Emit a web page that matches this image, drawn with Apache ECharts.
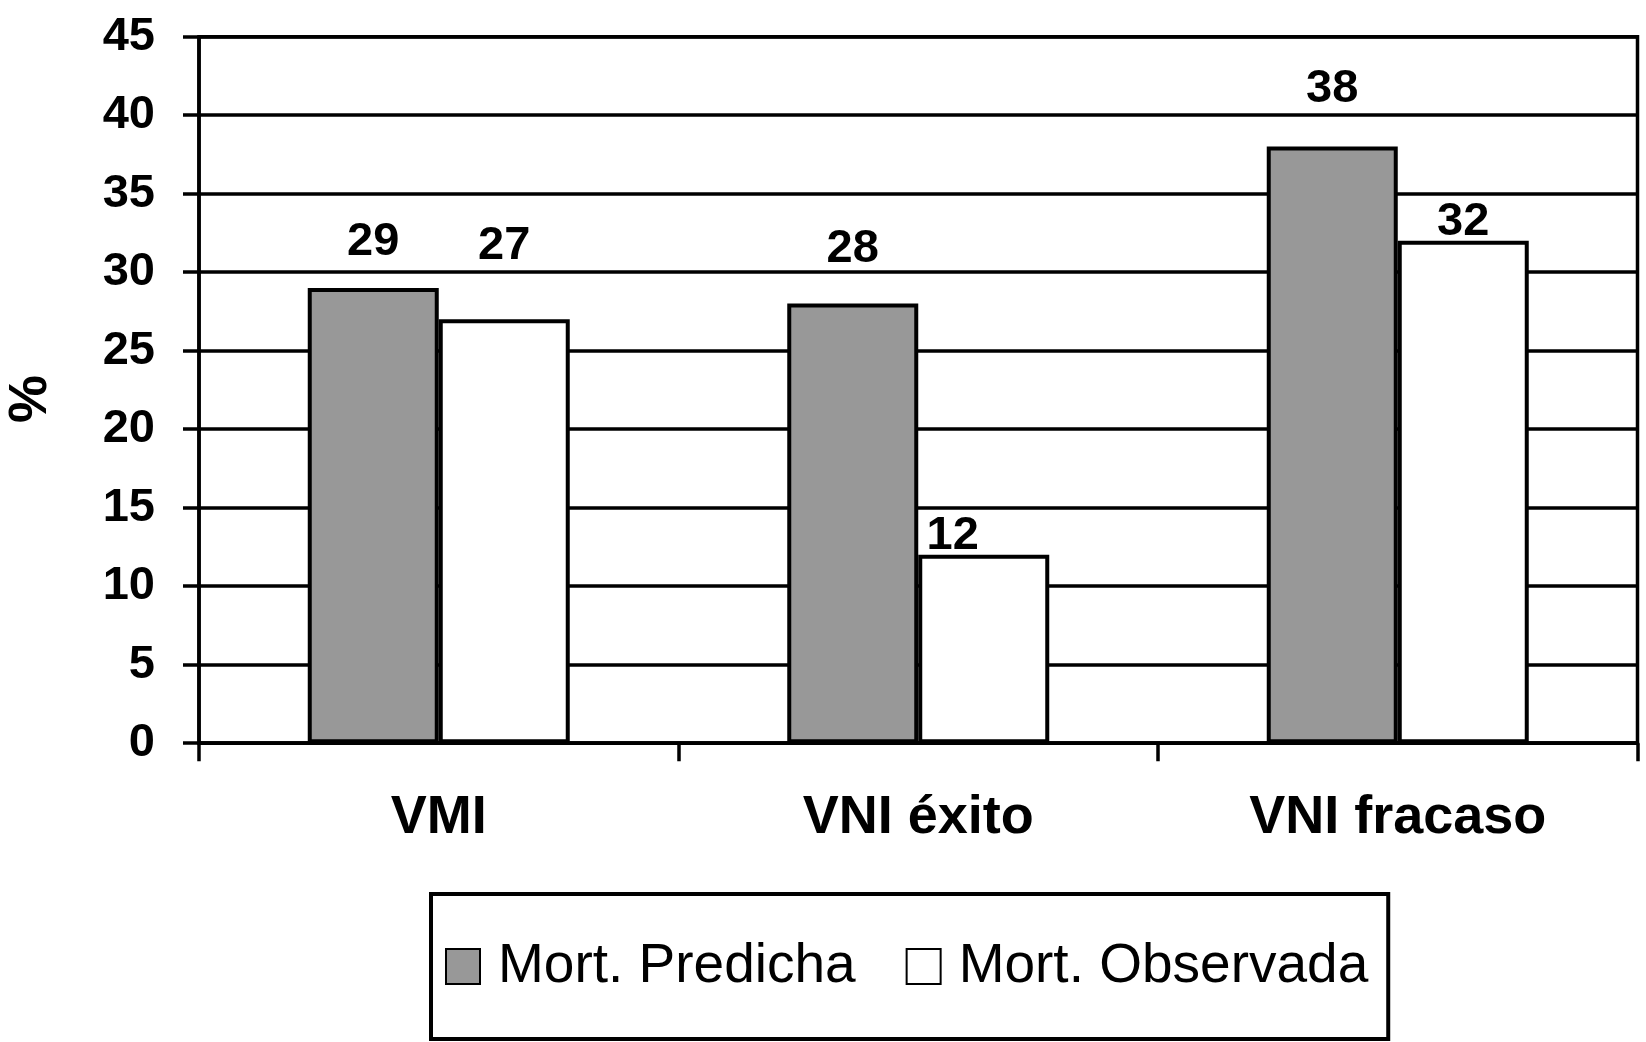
<!DOCTYPE html>
<html><head><meta charset="utf-8">
<script src="https://cdn.jsdelivr.net/npm/echarts@6/dist/echarts.min.js"></script>
<style>html,body{margin:0;padding:0;background:#fff}#c{width:1646px;height:1042px}</style>
</head><body><div id="c"></div>
<script>
// Data
const categories = ['VMI', 'VNI éxito', 'VNI fracaso'];
const seriesNames = ['Mort. Predicha', 'Mort. Observada'];
const predicha = [29, 28, 38];
const observada = [27, 12, 32];
const yMin = 0, yMax = 45, yStep = 5;

// Label placement styling (pixel offsets, not data)
const predLabelOffset = [[0, -22], [0, -31], [0, -34]];
const obsLabelOffset = [[0, -50], [-31, 5], [0, 5]];

const FONT = "'Liberation Sans', Arial, Helvetica, sans-serif";
const chart = echarts.init(document.getElementById('c'), null, {renderer: 'canvas'});

const labelBase = {show: true, position: 'top', distance: 0, color: '#000', fontFamily: FONT, fontWeight: 'bold', fontSize: 47};

chart.setOption({
  animation: false,
  backgroundColor: '#fff',
  grid: {left: 199, right: 8.5, top: 36.7, bottom: 298.8, containLabel: false, outerBoundsMode: 'none',
         show: true, borderColor: '#000', borderWidth: 3.5, backgroundColor: 'transparent'},
  legend: {
    left: 431, top: 894,
    orient: 'horizontal',
    padding: [45, 20, 45, 14],
    borderColor: '#000', borderWidth: 4,
    itemWidth: 34, itemHeight: 35, itemGap: 50,
    icon: 'rect',
    textStyle: {fontFamily: FONT, fontSize: 55, color: '#000', padding: [0, 0, 0, 13]},
    data: seriesNames
  },
  xAxis: {
    type: 'category', data: categories,
    axisLine: {lineStyle: {color: '#000', width: 3.5}},
    axisTick: {show: true, length: 18, lineStyle: {color: '#000', width: 3.5}},
    axisLabel: {margin: 48, color: '#000', fontFamily: FONT, fontWeight: 'bold', fontSize: 54},
    splitLine: {show: false}
  },
  yAxis: {
    type: 'value', min: yMin, max: yMax, interval: yStep,
    name: '%', nameLocation: 'middle', nameRotate: 90, nameGap: 141,
    nameTextStyle: {color: '#000', fontFamily: FONT, fontWeight: 'bold', fontSize: 54, padding: [0, 18, 0, 0]},
    axisLine: {show: true, lineStyle: {color: '#000', width: 3.5}},
    axisTick: {show: true, length: 16, lineStyle: {color: '#000', width: 3.5}},
    axisLabel: {margin: 44, color: '#000', fontFamily: FONT, fontWeight: 'bold', fontSize: 47, padding: [0, 0, 14, 0]},
    splitLine: {show: true, lineStyle: {color: '#000', width: 3.5}}
  },
  series: [
    {
      name: seriesNames[0], type: 'bar', barWidth: 131, barGap: '0%',
      itemStyle: {color: '#989898', borderColor: '#000', borderWidth: 4},
      label: labelBase,
      data: predicha.map((v, i) => ({value: v, label: {offset: predLabelOffset[i]}}))
    },
    {
      name: seriesNames[1], type: 'bar', barWidth: 131, barGap: '0%',
      itemStyle: {color: '#fff', borderColor: '#000', borderWidth: 4},
      label: labelBase,
      data: observada.map((v, i) => ({value: v, label: {offset: obsLabelOffset[i]}}))
    }
  ]
});
</script></body></html>
